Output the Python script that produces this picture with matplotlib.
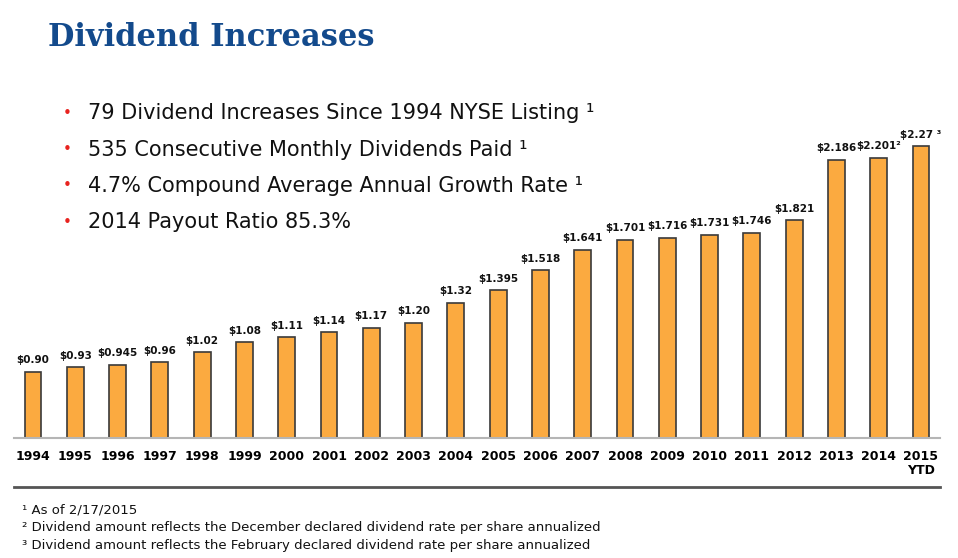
import numpy as np
import matplotlib.pyplot as plt
from matplotlib.lines import Line2D

# data
years = ['1994', '1995', '1996', '1997', '1998', '1999', '2000', '2001', '2002', '2003', '2004',
         '2005', '2006', '2007', '2008', '2009', '2010', '2011', '2012', '2013', '2014', '2015\nYTD']
dividends = [0.90, 0.93, 0.945, 0.96, 1.02, 1.08, 1.11, 1.14, 1.17, 1.20, 1.32,
             1.395, 1.518, 1.641, 1.701, 1.716, 1.731, 1.746, 1.821, 2.186, 2.201, 2.27]
value_labels = ['$0.90', '$0.93', '$0.945', '$0.96', '$1.02', '$1.08', '$1.11', '$1.14', '$1.17',
                '$1.20', '$1.32', '$1.395', '$1.518', '$1.641', '$1.701', '$1.716', '$1.731',
                '$1.746', '$1.821', '$2.186', '$2.201²', '$2.27 ³']
bullets = ['79 Dividend Increases Since 1994 NYSE Listing ¹',
           '535 Consecutive Monthly Dividends Paid ¹',
           '4.7% Compound Average Annual Growth Rate ¹',
           '2014 Payout Ratio 85.3%']
footnotes = ['¹ As of 2/17/2015',
             '² Dividend amount reflects the December declared dividend rate per share annualized',
             '³ Dividend amount reflects the February declared dividend rate per share annualized']

W, H = 958, 558
fig = plt.figure(figsize=(W / 100, H / 100), dpi=100)
ax = fig.add_axes([14 / W, (H - 438) / H, (940 - 14) / W, (438 - 100) / H])

x = np.arange(len(years))
ax.bar(x, dividends, width=0.4, color='#FBAA40', edgecolor='#3a3a3a', linewidth=1.2, zorder=2)
ax.set_ylim(0.5, 2.55)
ax.set_xlim(-0.45, len(years) - 0.55)

for xi, v, lab in zip(x, dividends, value_labels):
    ax.text(xi, v + 0.04, lab, ha='center', va='bottom', fontsize=7.5, fontweight='bold',
            color='#111111')

ax.set_xticks(x)
ax.set_xticklabels(years, fontsize=9, fontweight='bold', linespacing=1.1)
ax.tick_params(axis='x', length=0, pad=9)
ax.set_yticks([])
for s in ['top', 'left', 'right']:
    ax.spines[s].set_visible(False)
ax.spines['bottom'].set_color('#b5b5b5')
ax.spines['bottom'].set_linewidth(1.5)

# title
fig.text(48 / W, 1 - 38 / H, 'Dividend Increases', fontsize=22, fontweight='bold',
         family='DejaVu Serif', color='#134A8C', va='center')

# bullet points
for i, b in enumerate(bullets):
    y = 1 - (113 + i * 36.5) / H
    fig.text(67 / W, y, '•', color='#E8231F', fontsize=11, va='center', ha='center')
    fig.text(88 / W, y, b, fontsize=15, va='center', color='#111111')

# separator line and footnotes
fig.add_artist(Line2D([14 / W, 940 / W], [1 - 487 / H, 1 - 487 / H], color='#555555', lw=2))
for i, f in enumerate(footnotes):
    fig.text(22 / W, 1 - (510 + i * 17.5) / H, f, fontsize=9.5, va='center', color='#111111')

fig.savefig('out.png', dpi=100)
